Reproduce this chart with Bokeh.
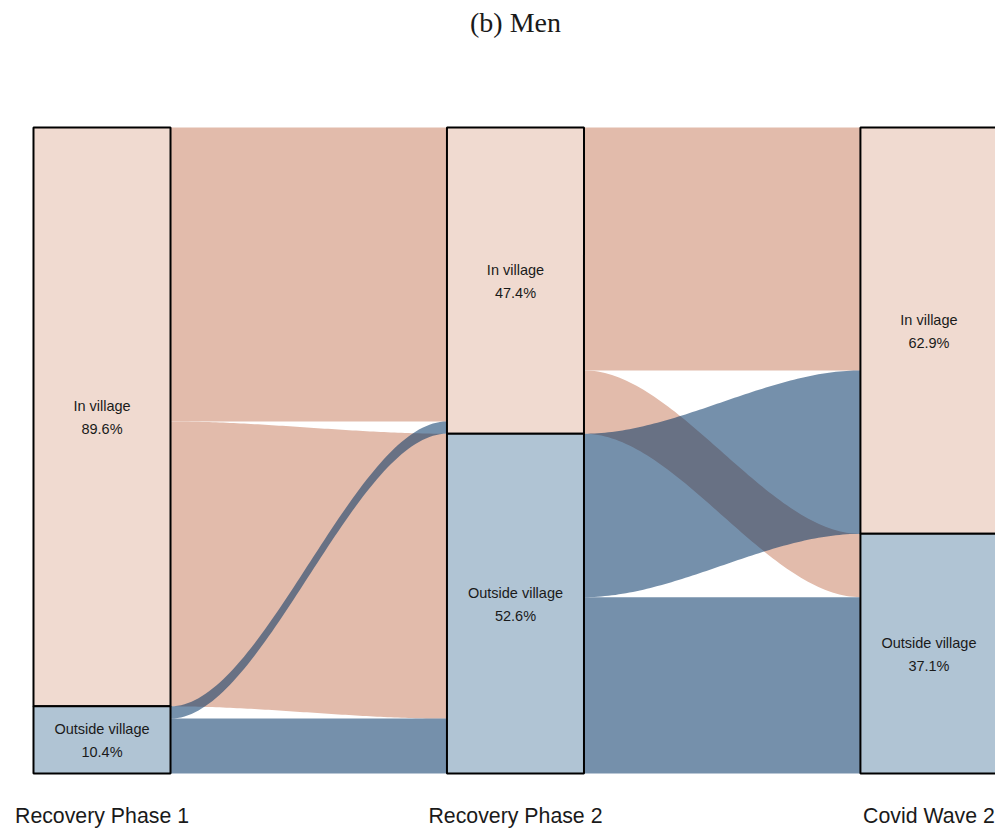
import numpy as np
from bokeh.plotting import figure
from bokeh.models import Range1d, ColumnDataSource
from bokeh.core.properties import value
from bokeh.embed import file_html
from bokeh.resources import INLINE

# ---- data ----
title = "(b) Men"
stages = ["Recovery Phase 1", "Recovery Phase 2", "Covid Wave 2"]
categories = ["In village", "Outside village"]
phase1 = [89.6, 10.4]
phase2 = [47.4, 52.6]
wave2 = [62.9, 37.1]
# flows: rows = origin category, cols = destination category
flows_1_2 = [[45.5, 44.1], [1.9, 8.5]]
flows_2_3 = [[37.6, 9.8], [25.3, 27.3]]

node_fill = ["#F0DAD0", "#B0C4D4"]
flow_fill = ["#E2BBAB", "#003164"]
flow_alpha = [1.0, 0.54]

nodes = [phase1, phase2, wave2]
transitions = [flows_1_2, flows_2_3]

p = figure(width=995, height=828, output_backend="svg", toolbar_location=None,
           x_range=Range1d(0.7545, 3.161), y_range=Range1d(-8.51, 119.66),
           min_border=0)
p.axis.visible = False
p.xgrid.visible = False
p.ygrid.visible = False
p.outline_line_color = None

half = 0.1657

# node extents (stacked from top = 100)
node_bounds = []
for vals in nodes:
    b = []
    top = 100.0
    for v in vals:
        b.append((top, top - v))
        top -= v
    node_bounds.append(b)

# flows
t = np.linspace(0, 1, 80)
f = t * t * (3 - 2 * t)
for s, fl in enumerate(transitions):
    xa = (s + 1) + half
    xb = (s + 2) - half
    xs = xa + (xb - xa) * t
    out_off = [node_bounds[s][i][0] for i in range(2)]
    in_off = [node_bounds[s + 1][j][0] for j in range(2)]
    src_pos = {}
    for i in range(2):
        o = out_off[i]
        for j in range(2):
            src_pos[(i, j)] = (o, o - fl[i][j])
            o -= fl[i][j]
    dst_pos = {}
    for j in range(2):
        o = in_off[j]
        for i in range(2):
            dst_pos[(i, j)] = (o, o - fl[i][j])
            o -= fl[i][j]
    for i in range(2):
        xsl, ysl = [], []
        for j in range(2):
            (sa, sb), (da, db) = src_pos[(i, j)], dst_pos[(i, j)]
            ytop = sa + (da - sa) * f
            ybot = sb + (db - sb) * f
            xsl.append(list(xs) + list(xs[::-1]))
            ysl.append(list(ytop) + list(ybot[::-1]))
        p.patches(xs=xsl, ys=ysl, fill_color=flow_fill[i], fill_alpha=flow_alpha[i],
                  line_color=None)

# nodes
rx, ry, rh, rc = [], [], [], []
lx, ly1, lt1, lt2 = [], [], [], []
for s, b in enumerate(node_bounds):
    for k, (top, bot) in enumerate(b):
        rx.append(s + 1)
        ry.append((top + bot) / 2)
        rh.append(top - bot)
        rc.append(node_fill[k])
        lx.append(s + 1)
        ly1.append((top + bot) / 2)
        lt1.append(categories[k])
        lt2.append(f"{nodes[s][k]:.1f}%")

src = ColumnDataSource(dict(x=rx, y=ry, h=rh, c=rc))
p.rect(x="x", y="y", width=2 * half, height="h", fill_color="c", line_color="black",
       line_width=2, source=src)

lsrc = ColumnDataSource(dict(x=lx, y=ly1, t1=lt1, t2=lt2))
p.text(x="x", y="y", text="t1", source=lsrc, text_align="center", text_baseline="middle",
       y_offset=-11, text_font=value("Liberation Sans"), text_font_size="14.5px",
       text_color="#1a1a1a")
p.text(x="x", y="y", text="t2", source=lsrc, text_align="center", text_baseline="middle",
       y_offset=12, text_font=value("Liberation Sans"), text_font_size="14.5px",
       text_color="#1a1a1a")

# stage labels
p.text(x=[1, 2, 3], y=[-6.5] * 3, text=stages, text_align="center", text_baseline="middle",
       text_font=value("Liberation Sans"), text_font_size="21.3px", text_color="#1a1a1a")

# title
p.text(x=[2.0], y=[116.2], text=[title],
       text_align="center", text_baseline="middle",
       text_font=value("Liberation Serif"), text_font_size="28px", text_color="#1a1a1a")

open("out.html", "w").write(file_html(p, INLINE))
